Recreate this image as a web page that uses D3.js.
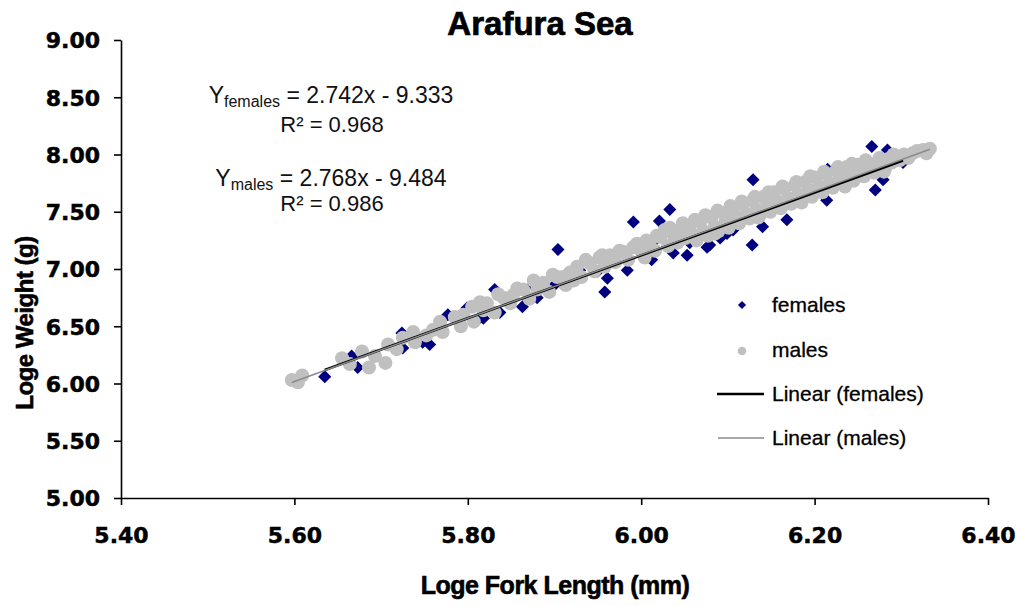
<!DOCTYPE html>
<html>
<head>
<meta charset="utf-8">
<script src="https://cdn.jsdelivr.net/npm/d3@7"></script>
<style>
  body { margin: 0; background: #fff; }
  svg { display: block; }
</style>
</head>
<body>
<script>
// Values: [loge fork length, loge weight]
const females = [
  [5.635, 6.06], [5.666, 6.24], [5.673, 6.14], [5.724, 6.44], [5.725, 6.31],
  [5.748, 6.36], [5.756, 6.34], [5.777, 6.60], [5.799, 6.66], [5.812, 6.56],
  [5.818, 6.57], [5.831, 6.82], [5.837, 6.62], [5.849, 6.76], [5.863, 6.67],
  [5.875, 6.86], [5.880, 6.75], [5.900, 6.86], [5.904, 7.17], [5.929, 6.99],
  [5.950, 6.98], [5.958, 6.80], [5.961, 6.92], [5.984, 6.99], [5.991, 7.41],
  [6.012, 7.08], [6.016, 7.25], [6.021, 7.42], [6.033, 7.52], [6.037, 7.14],
  [6.053, 7.12], [6.056, 7.23], [6.060, 7.30], [6.076, 7.19], [6.079, 7.21],
  [6.091, 7.27], [6.099, 7.31], [6.100, 7.42], [6.106, 7.34], [6.128, 7.21],
  [6.129, 7.78], [6.140, 7.37], [6.150, 7.53], [6.168, 7.43], [6.175, 7.60],
  [6.190, 7.64], [6.214, 7.60], [6.215, 7.87], [6.235, 7.75], [6.250, 7.84],
  [6.266, 8.07], [6.270, 7.69], [6.279, 7.78], [6.284, 8.04], [6.302, 7.93]
];

const males = [
  [5.597, 6.03], [5.604, 6.01], [5.609, 6.07], [5.655, 6.22], [5.664, 6.17],
  [5.678, 6.28], [5.686, 6.14], [5.693, 6.24], [5.705, 6.18], [5.708, 6.34],
  [5.718, 6.30], [5.725, 6.40], [5.737, 6.45], [5.739, 6.36], [5.752, 6.42],
  [5.760, 6.47], [5.768, 6.54], [5.771, 6.45], [5.785, 6.58], [5.792, 6.50],
  [5.795, 6.60], [5.805, 6.67], [5.807, 6.54], [5.814, 6.71], [5.818, 6.64],
  [5.822, 6.70], [5.831, 6.62], [5.835, 6.78], [5.841, 6.75], [5.849, 6.70],
  [5.852, 6.77], [5.857, 6.83], [5.864, 6.82], [5.871, 6.74], [5.876, 6.90],
  [5.880, 6.82], [5.887, 6.88], [5.894, 6.80], [5.898, 6.95], [5.903, 6.93],
  [5.910, 6.93], [5.913, 6.86], [5.918, 6.97], [5.922, 6.90], [5.926, 7.02],
  [5.931, 6.93], [5.936, 7.08], [5.941, 7.05], [5.946, 6.98], [5.952, 7.10],
  [5.955, 7.12], [5.958, 7.02], [5.964, 7.12], [5.970, 7.06], [5.975, 7.16],
  [5.979, 7.15], [5.985, 7.08], [5.991, 7.19], [5.995, 7.22], [5.999, 7.17],
  [6.004, 7.10], [6.006, 7.25], [6.010, 7.21], [6.016, 7.16], [6.018, 7.29],
  [6.022, 7.28], [6.027, 7.34], [6.031, 7.20], [6.033, 7.36], [6.037, 7.30],
  [6.042, 7.23], [6.045, 7.34], [6.048, 7.40], [6.051, 7.27], [6.056, 7.38],
  [6.060, 7.30], [6.062, 7.43], [6.064, 7.25], [6.068, 7.41], [6.072, 7.33],
  [6.074, 7.47], [6.077, 7.29], [6.081, 7.45], [6.085, 7.37], [6.085, 7.31],
  [6.088, 7.51], [6.089, 7.33], [6.094, 7.49], [6.097, 7.41], [6.101, 7.36],
  [6.103, 7.55], [6.106, 7.52], [6.109, 7.45], [6.113, 7.40], [6.116, 7.59],
  [6.118, 7.57], [6.121, 7.48], [6.125, 7.44], [6.129, 7.60], [6.131, 7.63],
  [6.133, 7.52], [6.135, 7.45], [6.137, 7.47], [6.141, 7.63], [6.145, 7.56],
  [6.147, 7.67], [6.149, 7.50], [6.153, 7.67], [6.157, 7.59], [6.161, 7.53],
  [6.163, 7.72], [6.165, 7.70], [6.169, 7.62], [6.173, 7.57], [6.177, 7.73],
  [6.179, 7.76], [6.181, 7.65], [6.185, 7.61], [6.185, 7.58], [6.189, 7.76],
  [6.193, 7.69], [6.195, 7.81], [6.197, 7.63], [6.201, 7.80], [6.205, 7.72],
  [6.209, 7.67], [6.211, 7.85], [6.213, 7.83], [6.217, 7.75], [6.221, 7.71],
  [6.225, 7.86], [6.227, 7.89], [6.229, 7.79], [6.233, 7.74], [6.235, 7.72],
  [6.237, 7.89], [6.241, 7.82], [6.243, 7.92], [6.245, 7.77], [6.249, 7.91],
  [6.253, 7.85], [6.257, 7.81], [6.259, 7.95], [6.261, 7.92], [6.265, 7.88],
  [6.269, 7.84], [6.273, 7.94], [6.275, 7.97], [6.277, 7.90], [6.280, 7.85],
  [6.281, 7.87], [6.285, 7.96], [6.289, 7.93], [6.291, 8.00], [6.294, 7.98],
  [6.298, 7.95], [6.303, 8.00], [6.308, 7.97], [6.313, 8.01], [6.318, 8.03],
  [6.325, 8.04], [6.329, 8.01], [6.333, 8.05]
];

// Fitted lines shown on the chart
const fits = [
  { name: 'females', slope: 2.742, intercept: -9.333, r2: '0.968', data: females },
  { name: 'males', slope: 2.768, intercept: -9.484, r2: '0.986', data: males }
];

const xTicks = [5.4, 5.6, 5.8, 6.0, 6.2, 6.4];
const yTicks = [5.0, 5.5, 6.0, 6.5, 7.0, 7.5, 8.0, 8.5, 9.0];

const width = 1016, height = 606;
const plot = { left: 121, right: 988, top: 40, bottom: 498 };

const svg = d3.select('body').append('svg')
  .attr('width', width)
  .attr('height', height);

const x = d3.scaleLinear().domain([5.4, 6.4]).range([plot.left, plot.right]);
const y = d3.scaleLinear().domain([5.0, 9.0]).range([plot.bottom, plot.top]);

const boldFont = '"Liberation Sans", Arial, sans-serif';
const tickFont = '"DejaVu Sans", sans-serif';

// Title
svg.append('text')
  .attr('x', 540).attr('y', 35)
  .attr('text-anchor', 'middle')
  .style('font-family', boldFont)
  .style('font-weight', 'bold')
  .style('font-size', '33px')
  .style('stroke', '#000').style('stroke-width', 0.7)
  .text('Arafura Sea');

// Points: females first, males drawn over them
const diamond = d3.symbol().type(d3.symbolSquare).size(85);
svg.append('g').selectAll('path')
  .data(females)
  .join('path')
  .attr('d', diamond)
  .attr('transform', d => `translate(${x(d[0])},${y(d[1])}) rotate(45)`)
  .attr('fill', '#000080');

svg.append('g').selectAll('circle')
  .data(males)
  .join('circle')
  .attr('cx', d => x(d[0]))
  .attr('cy', d => y(d[1]))
  .attr('r', 7)
  .attr('fill', '#c0c0c0');

// Trend lines across each series' x range
const lineStyles = { females: { color: '#000', w: 2.5 }, males: { color: '#8a8a8a', w: 1.4 } };
for (const f of fits) {
  const [x0, x1] = d3.extent(f.data, d => d[0]);
  svg.append('line')
    .attr('x1', x(x0)).attr('y1', y(f.slope * x0 + f.intercept))
    .attr('x2', x(x1)).attr('y2', y(f.slope * x1 + f.intercept))
    .attr('stroke', lineStyles[f.name].color)
    .attr('stroke-width', lineStyles[f.name].w);
}

// Axes
const xAxis = svg.append('g')
  .attr('transform', `translate(0,${plot.bottom})`)
  .call(d3.axisBottom(x).tickValues(xTicks).tickFormat(d3.format('.2f')).tickSizeInner(7).tickSizeOuter(0).tickPadding(22));
const yAxis = svg.append('g')
  .attr('transform', `translate(${plot.left},0)`)
  .call(d3.axisLeft(y).tickValues(yTicks).tickFormat(d3.format('.2f')).tickSizeInner(7).tickSizeOuter(0).tickPadding(14));

for (const ax of [xAxis, yAxis]) {
  ax.select('.domain').attr('stroke', '#000').attr('stroke-width', 1.6);
  ax.selectAll('.tick line').attr('stroke', '#000').attr('stroke-width', 1.6);
  ax.selectAll('.tick text')
    .attr('fill', '#000')
    .style('font-family', tickFont)
    .style('font-weight', 'bold')
    .style('font-size', '22px')
    .style('stroke', '#000').style('stroke-width', 0.5);
}
yAxis.selectAll('.tick text').attr('dy', '0.36em');

// Axis titles
svg.append('text')
  .attr('x', 555).attr('y', 594)
  .attr('text-anchor', 'middle')
  .style('font-family', boldFont).style('font-weight', 'bold').style('font-size', '25px')
  .style('stroke', '#000').style('stroke-width', 0.6)
  .style('letter-spacing', '-0.5px')
  .text('Loge Fork Length (mm)');

svg.append('text')
  .attr('transform', 'translate(33,323) rotate(-90)')
  .attr('text-anchor', 'middle')
  .style('font-family', boldFont).style('font-weight', 'bold').style('font-size', '24px')
  .style('stroke', '#000').style('stroke-width', 0.6)
  .style('letter-spacing', '-0.5px')
  .text('Loge Weight (g)');

// Regression equations
const eqFont = '"Liberation Sans", Arial, sans-serif';
const eqLines = [
  { sub: 'females', fit: fits[0], yEq: 103, yR2: 132 },
  { sub: 'males', fit: fits[1], yEq: 186, yR2: 211 }
];
for (const e of eqLines) {
  const t = svg.append('text')
    .attr('x', 331).attr('y', e.yEq)
    .attr('text-anchor', 'middle')
    .style('font-family', eqFont).style('font-size', '23px').attr('fill', '#111');
  t.append('tspan').text('Y');
  t.append('tspan').attr('dy', 4).style('font-size', '16px').text(e.sub);
  t.append('tspan').attr('dy', -4)
    .text(` = ${e.fit.slope.toFixed(3)}x - ${Math.abs(e.fit.intercept).toFixed(3)}`);
  svg.append('text')
    .attr('x', 332).attr('y', e.yR2)
    .attr('text-anchor', 'middle')
    .style('font-family', eqFont).style('font-size', '22px').attr('fill', '#111')
    .text(`R² = ${e.fit.r2}`);
}

// Legend
const legend = svg.append('g')
  .style('font-family', eqFont).style('font-size', '21px')
  .style('stroke', '#000').style('stroke-width', 0.3);

legend.append('path')
  .attr('d', d3.symbol().type(d3.symbolSquare).size(34))
  .attr('transform', 'translate(742,305) rotate(45)')
  .attr('fill', '#000080').style('stroke', 'none');
legend.append('text').attr('x', 772).attr('y', 312).text('females');

legend.append('circle').attr('cx', 742).attr('cy', 351).attr('r', 4.3)
  .attr('fill', '#c0c0c0').style('stroke', 'none');
legend.append('text').attr('x', 772).attr('y', 357).text('males');

legend.append('line')
  .attr('x1', 717).attr('x2', 764).attr('y1', 394).attr('y2', 394)
  .style('stroke', '#000').style('stroke-width', 2.5);
legend.append('text').attr('x', 772).attr('y', 401).text('Linear (females)');

legend.append('line')
  .attr('x1', 718).attr('x2', 764).attr('y1', 438).attr('y2', 438)
  .style('stroke', '#8a8a8a').style('stroke-width', 1.4);
legend.append('text').attr('x', 772).attr('y', 445).text('Linear (males)');
</script>
</body>
</html>
